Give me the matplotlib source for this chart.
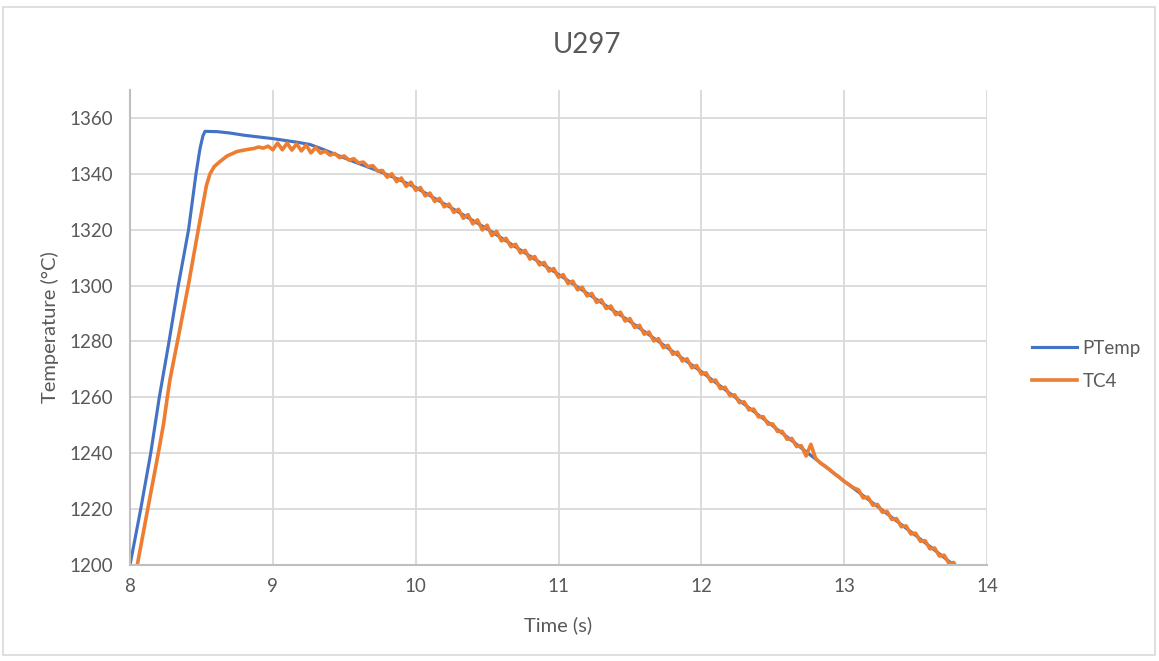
import numpy as np
import matplotlib
matplotlib.use('Agg')
import matplotlib.pyplot as plt
from matplotlib.patches import Rectangle

# ── data ──────────────────────────────────────────────
# PTemp: smooth furnace reading (time s, temp °C)
ptemp_t = [7.99, 8.0, 8.075, 8.145, 8.205, 8.27, 8.338, 8.41, 8.462, 8.49, 8.51,
           8.525, 8.61, 8.7, 8.8, 9.0, 9.17, 9.26, 9.35, 9.49, 9.6, 9.73, 9.89,
           10.0, 10.25, 10.5, 10.75, 11.0, 11.25, 11.5, 11.75, 12.0, 12.25,
           12.5, 12.75, 13.0, 13.25, 13.5, 13.78, 13.8]
ptemp_v = [1197, 1200, 1220, 1240, 1260, 1279, 1300, 1320, 1340, 1349, 1353.5,
           1355.2, 1355.1, 1354.6, 1353.8, 1352.6, 1351.3, 1350.5, 1348.8, 1345.9,
           1343.7, 1341.2, 1337.8, 1335.1, 1327.8, 1320.3, 1312.2, 1304.0, 1295.6,
           1287.2, 1278.2, 1269.2, 1259.5, 1249.8, 1239.9, 1230.0, 1220.3, 1210.6,
           1199.5, 1198.7]

# TC4 heating ramp (time s, temp °C)
tc4_rise_t = [8.03, 8.051, 8.124, 8.198, 8.235, 8.261, 8.28, 8.34, 8.408, 8.478,
              8.535, 8.56, 8.59, 8.63, 8.68, 8.75, 8.82, 8.87]
tc4_rise_v = [1191, 1200, 1220, 1240, 1250.5, 1260, 1266.4, 1282, 1300, 1320,
              1335.8, 1340, 1342.6, 1344.4, 1346.4, 1348.0, 1348.7, 1349.1]

# TC4 after the peak, sampled every 1/30 s from 8.9 s (noisy thermocouple)
tc4_start = 8.9
tc4_step = 1 / 30
tc4_v = [
    1349.6, 1349.2, 1349.9, 1348.6, 1351.0, 1348.6, 1351.0, 1348.5, 1350.7,
    1348.2, 1350.3, 1347.5, 1349.4, 1347.4, 1348.1, 1346.7, 1347.3, 1345.8,
    1346.4, 1344.9, 1345.4, 1343.9, 1344.2, 1342.6, 1342.9, 1341.0, 1341.2,
    1338.8, 1340.0, 1337.2, 1338.5, 1335.5, 1337.0, 1334.1, 1335.1, 1332.1,
    1333.1, 1330.1, 1331.2, 1328.2, 1329.2, 1326.2, 1327.3, 1324.1, 1325.4,
    1322.1, 1323.5, 1319.9, 1321.6, 1317.9, 1319.4, 1316.0, 1316.9, 1313.9,
    1314.8, 1311.7, 1312.6, 1309.5, 1310.4, 1307.4, 1308.3, 1305.2, 1306.1,
    1303.0, 1303.9, 1300.7, 1301.6, 1298.5, 1299.4, 1296.3, 1297.2, 1294.0,
    1294.9, 1291.8, 1292.7, 1289.6, 1290.5, 1287.3, 1288.2, 1285.0, 1285.8,
    1282.6, 1283.4, 1280.2, 1281.0, 1277.8, 1278.6, 1275.4, 1276.2, 1273.0,
    1273.8, 1270.6, 1271.4, 1268.3, 1268.8, 1265.7, 1266.2, 1263.1, 1263.6,
    1260.6, 1260.9, 1258.1, 1258.4, 1255.5, 1255.8, 1253.0, 1253.1, 1250.4,
    1250.5, 1247.8, 1247.8, 1245.0, 1245.3, 1242.4, 1242.7, 1239.0, 1243.2,
    1238.2, 1236.5, 1235.4, 1234.1, 1232.6, 1231.4, 1229.9, 1228.8, 1227.6,
    1226.9, 1224.0, 1224.3, 1221.4, 1221.7, 1218.9, 1219.2, 1216.3, 1216.6,
    1213.7, 1214.0, 1211.1, 1211.4, 1208.5, 1208.7, 1205.8, 1206.1, 1203.2,
    1203.5, 1200.6, 1200.9, 1198.0,
]

y_ticks = [1200, 1220, 1240, 1260, 1280, 1300, 1320, 1340, 1360]
x_ticks = [8, 9, 10, 11, 12, 13, 14]

# ── style ─────────────────────────────────────────────
BLUE = '#4472C4'
ORANGE = '#ED7D31'
TEXT = '#595959'
GRID = '#D9D9D9'
AXIS = '#BFBFBF'

plt.rcParams['font.family'] = ['Lato', 'DejaVu Sans']

tc4_t = tc4_start + tc4_step * np.arange(len(tc4_v))
tc4_all_t = np.concatenate([tc4_rise_t, tc4_t])
tc4_all_v = np.concatenate([tc4_rise_v, tc4_v])

fig = plt.figure(figsize=(11.59, 6.61), dpi=100)
fig.patch.set_facecolor('white')
ax = fig.add_axes([130 / 1159, 1 - 565 / 661, (987 - 130) / 1159, (565 - 90) / 661])

# chart area border
fig.patches.append(Rectangle((3 / 1159, 1 - 655 / 661), 1152 / 1159, 648 / 661,
                             transform=fig.transFigure, fill=False,
                             edgecolor=GRID, linewidth=1.2))

ax.plot(ptemp_t, ptemp_v, color=BLUE, lw=2.25, label='PTemp', solid_joinstyle='round')
ax.plot(tc4_all_t, tc4_all_v, color=ORANGE, lw=2.6, label='TC4', solid_joinstyle='round')

ax.set_xlim(8, 14)
ax.set_ylim(1200, 1370)
ax.set_xticks(x_ticks)
ax.set_yticks(y_ticks)
ax.grid(True, color=GRID, lw=1.3)
ax.set_axisbelow(True)
for side in ('top', 'right'):
    ax.spines[side].set_visible(False)
for side in ('left', 'bottom'):
    ax.spines[side].set_color(AXIS)
    ax.spines[side].set_linewidth(1.5)
ax.tick_params(axis='both', length=0, labelsize=13.5, colors=TEXT)
ax.tick_params(axis='y', pad=12)
ax.tick_params(axis='x', pad=9)

ax.set_xlabel('Time (s)', fontsize=14.5, color=TEXT, labelpad=16)
ax.set_ylabel('Temperature (°C)', fontsize=14.5, color=TEXT, labelpad=8)

fig.text(587 / 1159, 1 - 45 / 661, 'U297', ha='center', va='center',
         fontsize=20, color=TEXT)

fig.legend(loc='center left', bbox_to_anchor=(1032 / 1159, 1 - 365 / 661),
           frameon=False, fontsize=13.5, labelcolor=TEXT,
           handlelength=2.4, handletextpad=0.3, labelspacing=0.85,
           borderaxespad=0, borderpad=0)

fig.savefig('out.png', dpi=100, facecolor='white')
